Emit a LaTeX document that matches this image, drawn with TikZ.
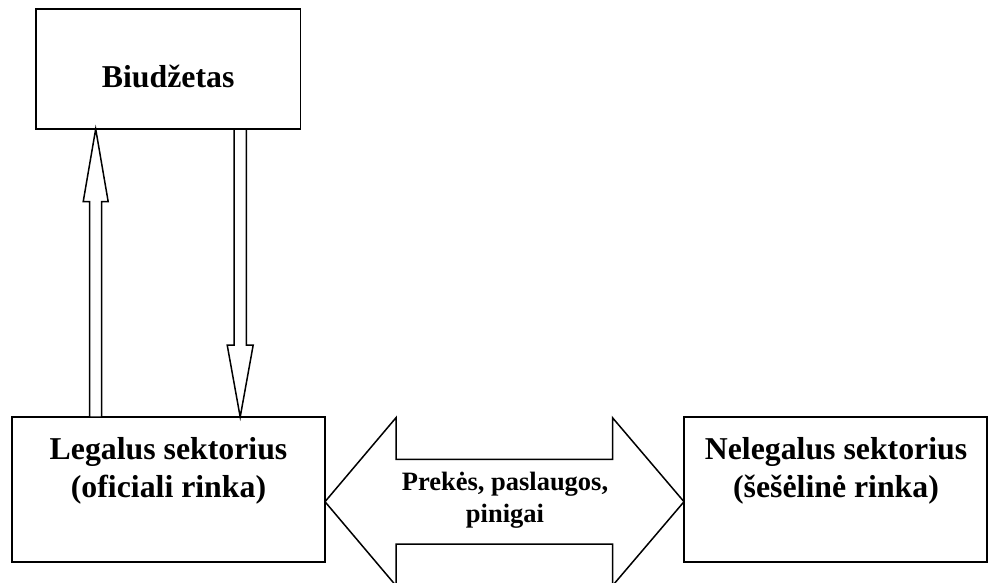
\documentclass[tikz,border=0pt]{standalone}
\usepackage{fontspec}
\setmainfont{Liberation Serif}
\usetikzlibrary{calc}
\begin{document}
\begin{tikzpicture}[x=1pt,y=-1pt,
  box/.style={draw, line width=1.5pt, inner sep=0pt, outer sep=0pt},
  lbl/.style={font=\bfseries\fontsize{31.8}{38.3}\selectfont, align=center, inner sep=0pt},
  small/.style={font=\bfseries\fontsize{26.5}{31.8}\selectfont, align=center, inner sep=0pt},
  blk/.style={draw, line width=1.5pt, line join=miter, fill=white}]
\useasboundingbox (0,0) rectangle (988,582);
\clip (0,0) rectangle (988,582);
% boxes
\node[box, minimum width=264.3pt, minimum height=120pt] (bud) at (168.15,69) {};
\node[box, minimum width=313pt, minimum height=145pt] (leg) at (168.5,489.5) {};
\node[box, minimum width=303pt, minimum height=145pt] (nel) at (835.5,489.5) {};
% texts
\node[lbl, anchor=base] (budt) at (168.2,87.3) {Biudžetas};
\node[lbl, anchor=north] (legt) at (168.5,437) {Legalus sektorius\\(oficiali rinka)};
\node[lbl, anchor=north] (nelt) at (836,437) {Nelegalus sektorius\\(šešėlinė rinka)};
% helper coordinates
\coordinate (ua) at (95.7,0);
\coordinate (da) at (240.2,0);
\coordinate (my) at (0,501.7);
% up arrow (Legalus -> Biudzetas)
\draw[blk] (ua|-bud.south) -- ($(ua|-bud.south)+(12.5,72.7)$) -- ($(ua|-bud.south)+(6,72.7)$)
  -- ($(ua|-leg.north)+(6,0)$) -- ($(ua|-leg.north)+(-6,0)$)
  -- ($(ua|-bud.south)+(-6,72.7)$) -- ($(ua|-bud.south)+(-12.5,72.7)$) -- cycle;
% down arrow (Biudzetas -> Legalus)
\draw[blk] ($(da|-bud.south)+(-6.2,0)$) -- ($(da|-bud.south)+(6.2,0)$)
  -- ($(da|-leg.north)+(6.2,-72)$) -- ($(da|-leg.north)+(13,-72)$)
  -- (da|-leg.north) -- ($(da|-leg.north)+(-13,-72)$)
  -- ($(da|-leg.north)+(-6.2,-72)$) -- cycle;
% double arrow
\draw[blk] (leg.east|-my) -- ($(leg.east|-my)+(71,-84)$) -- ($(leg.east|-my)+(71,-42.3)$)
  -- ($(nel.west|-my)+(-71.5,-42.3)$) -- ($(nel.west|-my)+(-71.5,-84)$)
  -- (nel.west|-my) -- ($(nel.west|-my)+(-71.5,84)$) -- ($(nel.west|-my)+(-71.5,42.3)$)
  -- ($(leg.east|-my)+(71,42.3)$) -- ($(leg.east|-my)+(71,84)$) -- cycle;
\node[small, anchor=north] (mid) at (505,471.7) {Prekės, paslaugos,\\pinigai};
\end{tikzpicture}
\end{document}
